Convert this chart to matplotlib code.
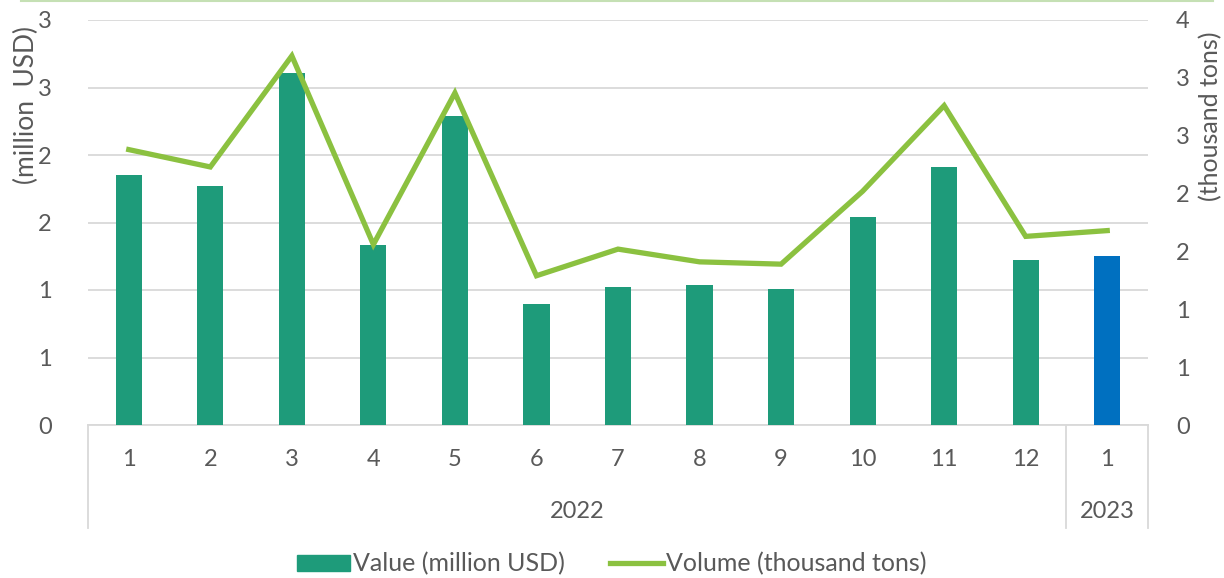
import math
import matplotlib
matplotlib.use("Agg")
import matplotlib.pyplot as plt
from matplotlib.ticker import FuncFormatter, MultipleLocator
from matplotlib.lines import Line2D
from matplotlib.patches import Patch

months = ["1", "2", "3", "4", "5", "6", "7", "8", "9", "10", "11", "12", "1"]
years = ["2022", "2023"]
year_counts = [12, 1]
value_musd = [1.85, 1.77, 2.61, 1.33, 2.29, 0.90, 1.02, 1.04, 1.01, 1.54, 1.91, 1.22, 1.25]
volume_kt = [2.38, 2.23, 3.19, 1.56, 2.87, 1.29, 1.52, 1.41, 1.39, 2.02, 2.76, 1.63, 1.68]

BAR = "#1E9B7A"
BAR_LAST = "#0070C0"
LINE = "#8BC140"
TXT = "#595959"
GRID = "#D9D9D9"
FS = 17

plt.rcParams['font.family'] = ['Lato', 'DejaVu Sans']

fig = plt.figure(figsize=(12.24, 5.78), dpi=100)
L, R = 88 / 1224, 1148 / 1224
B, T = 1 - 425 / 578, 1 - 20 / 578
ax = fig.add_axes([L, B, R - L, T - B])
ax2 = ax.twinx()

x = list(range(len(months)))
colors = [BAR] * (len(months) - 1) + [BAR_LAST]
ax.bar(x, value_musd, width=0.32, color=colors, zorder=3)
ax2.plot(x, volume_kt, color=LINE, lw=3.8, zorder=4, solid_joinstyle='miter')

ax.set_xlim(-0.5, len(months) - 0.5)
ax.set_ylim(0, 3)
ax2.set_ylim(0, 3.5)
ax.yaxis.set_major_locator(MultipleLocator(0.5))
ax2.yaxis.set_major_locator(MultipleLocator(0.5))
fmt = FuncFormatter(lambda v, p: str(int(math.floor(v + 0.5))))
ax.yaxis.set_major_formatter(fmt)
ax2.yaxis.set_major_formatter(fmt)

ax.grid(axis='y', color=GRID, lw=1.3, zorder=0)
ax.set_axisbelow(True)
for a in (ax, ax2):
    for s in a.spines.values():
        s.set_visible(False)
    a.tick_params(axis='y', length=0, labelsize=FS, labelcolor=TXT)
ax.tick_params(axis='y', pad=26)
ax2.tick_params(axis='y', pad=20)
ax2.patch.set_visible(False)

ax.set_xticks([])
ax.spines['bottom'].set_visible(True)
ax.spines['bottom'].set_color(GRID)
ax.spines['bottom'].set_linewidth(1.3)

trans = ax.get_xaxis_transform()
for i, m in enumerate(months):
    ax.text(i, -(460 - 425) / 405, m, transform=trans,
            ha='center', va='center', fontsize=FS, color=TXT, clip_on=False)
ylow = -(528 - 425) / 405
start = 0
bounds = [-0.5]
for yr, n in zip(years, year_counts):
    center = start + (n - 1) / 2
    ax.text(center, -(512 - 425) / 405, yr, transform=trans, ha='center', va='center',
            fontsize=FS, color=TXT, clip_on=False)
    start += n
    bounds.append(start - 0.5)
for bx in bounds:
    ax.add_line(Line2D([bx, bx], [0, ylow], transform=trans, color=GRID, lw=1.3, clip_on=False))

fig.text(26 / 1224, 1 - 105 / 578, "(million  USD)", rotation=90, ha='center', va='center',
         fontsize=19, color=TXT)
fig.text(1211 / 1224, 1 - 116 / 578, "(thousand tons)", rotation=90, ha='center', va='center',
         fontsize=18, color=TXT)

fig.add_artist(Line2D([21 / 1224, 1213 / 1224], [0.999, 0.999], color="#C5E0B4", lw=1.5))

handles = [Patch(color=BAR, label="Value (million USD)"),
           Line2D([], [], color=LINE, lw=3.8, label="Volume (thousand tons)")]
fig.legend(handles=handles, loc='center', bbox_to_anchor=(0.5, 1 - 564 / 578), ncol=2,
           frameon=False, fontsize=18, labelcolor=TXT, handlelength=2.1, handleheight=0.6,
           columnspacing=1.8, handletextpad=0.15)

fig.savefig("out.png", dpi=100)
